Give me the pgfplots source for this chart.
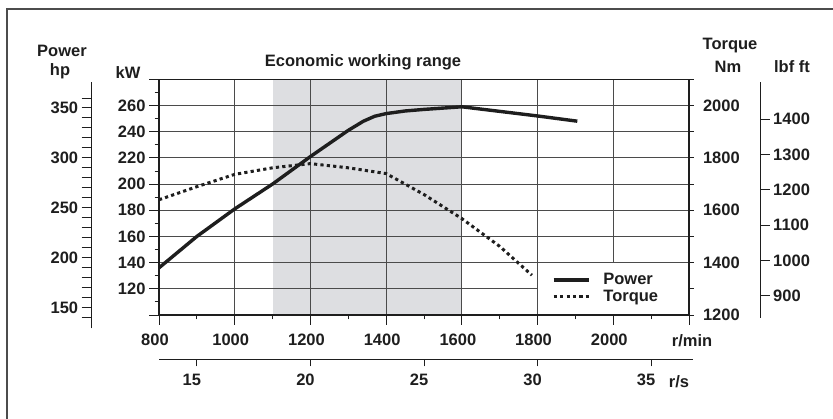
\documentclass[border=0pt]{standalone}
\usepackage{pgfplots}
\pgfplotsset{compat=1.18}
\usepackage{fontspec}
\setmainfont{Liberation Sans}
\definecolor{ink}{RGB}{30,30,30}
\definecolor{band}{RGB}{221,222,225}
\definecolor{gridc}{RGB}{75,75,75}
\newcommand{\lf}{\fontsize{16.5}{18}\selectfont\bfseries}
\pgfplotsset{
  base/.style={scale only axis,
    /pgf/number format/assume math mode=true,
    /pgf/number format/1000 sep={},
    scaled ticks=false,
    tick label style={font=\lf, text=ink},
    tick style={ink, line width=0.9pt},
    axis line style={ink, line width=1.1pt, -}},
}
\begin{document}
\begin{tikzpicture}[x=1pt,y=1pt]
\useasboundingbox (0,0) rectangle (833,419);
\draw[black!70, line width=1.5pt] (7,-5) -- (7,410) -- (840,410);

% shaded economic range (behind the grid)
\begin{axis}[base, at={(159pt,104pt)}, anchor=south west, width=530pt, height=235.7pt,
  xmin=800, xmax=2200, ymin=100, ymax=280, hide axis]
\fill[band] (axis cs:1100,100) rectangle (axis cs:1600,280);
\end{axis}

% main axis: kW vs r/min
\begin{axis}[base, at={(159pt,104pt)}, anchor=south west, width=530pt, height=235.7pt,
  xmin=800, xmax=2200, ymin=100, ymax=280,
  xtick={800,1000,...,2200},
  xticklabels={800,1000,1200,1400,1600,1800,2000,\makebox[0pt]{\hspace{14pt}r/min}},
  minor xtick={900,1100,...,2100},
  ytick={100,120,...,280},
  yticklabels={{},120,140,160,180,200,220,240,260,{}},
  minor ytick={110,130,...,270},
  xtick pos=left, ytick pos=left,
  tick align=outside, major tick length=10pt, minor tick length=4.5pt,
  grid=major, major grid style={gridc, line width=0.9pt},
  xticklabel style={yshift=-5.6pt, xshift=-4pt},
]
\addplot[ink, line width=3.4pt, line join=round] coordinates {
  (800,136) (900,160) (1000,181) (1100,200) (1200,221) (1300,241)
  (1340,248) (1370,251.8) (1400,253.8) (1450,255.8) (1500,257)
  (1600,259) (1700,255.5) (1800,252) (1905,248)};
\fill[white] ([xshift=0.6pt,yshift=0.7pt]axis cs:1800,100) rectangle ([xshift=-0.7pt,yshift=-0.6pt]axis cs:2200,140);
\end{axis}

% torque axis (Nm) on the right
\begin{axis}[base, at={(159pt,104pt)}, anchor=south west, width=530pt, height=235.7pt,
  xmin=800, xmax=2200, ymin=1200, ymax=2100,
  hide x axis, axis y line*=right,
  ytick={1200,1400,...,2000}, minor ytick={1300,1500,...,2100},
  ytick pos=right, tick align=outside, major tick length=4.5pt, minor tick length=4.5pt,
  yticklabel style={xshift=6pt},
  legend style={draw=none, fill=none, at={(0.7415,0.176)}, anchor=north west,
    inner sep=0pt, outer sep=0pt, row sep=4pt,
    nodes={inner sep=0pt, font=\lf, text=ink},
    /tikz/every odd column/.append style={column sep=13pt}},
  legend image code/.code={\draw[#1] (0pt,0pt) -- (35pt,0pt);},
  legend cell align=left,
]
\addlegendimage{ink, line width=3.4pt}
\addlegendentry{Power}
\addplot[ink, line width=3pt, dash pattern=on 3.2pt off 3.2pt] coordinates {
  (800,1640) (900,1690) (1000,1737) (1100,1762) (1200,1778) (1300,1762)
  (1400,1740) (1500,1660) (1600,1568) (1700,1462) (1785,1352)};
\addlegendentry{Torque}
\end{axis}

% hp axis
\begin{axis}[base, at={(91.7pt,90.7pt)}, anchor=south west, width=10pt, height=245.8pt,
  xmin=0, xmax=1, ymin=129.2, ymax=375.5,
  hide x axis, axis y line*=left, ytick pos=left,
  ytick={150,200,...,350}, minor ytick={140,160,170,180,190,210,220,230,240,260,270,280,290,310,320,330,340,360},
  tick align=outside, major tick length=10pt, minor tick length=10pt]
\end{axis}

% lbf ft axis
\begin{axis}[base, at={(760.7pt,101pt)}, anchor=south east, width=10pt, height=236.3pt,
  xmin=0, xmax=1, ymin=837, ymax=1506.5,
  hide x axis, axis y line*=right, ytick pos=right,
  ytick={900,1000,...,1400},
  tick align=outside, major tick length=9pt]
\end{axis}

% r/s axis
\begin{axis}[base, at={(159pt,59.7pt)}, anchor=south west, width=534pt, height=10pt,
  xmin=13.3333, xmax=36.843, ymin=0, ymax=1,
  hide y axis, axis x line*=bottom, xtick pos=left,
  xtick={15,20,...,35},
  tick align=outside, major tick length=7pt,
  xticklabel style={yshift=-4.3pt, xshift=-5pt}]
\end{axis}

\begin{scope}[every node/.style={font=\lf, text=ink, inner sep=0pt}]
\node[anchor=base] at (62,362.3) {Power};
\node[anchor=base] at (60,343) {hp};
\node[anchor=base] at (128,340.3) {kW};
\node[anchor=base] at (730,369.8) {Torque};
\node[anchor=base] at (728,346.3) {Nm};
\node[anchor=base] at (792,346) {lbf ft};
\node[anchor=base] at (363,352) {Economic working range};
\node[anchor=base] at (679,31.1) {r/s};
\end{scope}
\end{tikzpicture}
\end{document}
